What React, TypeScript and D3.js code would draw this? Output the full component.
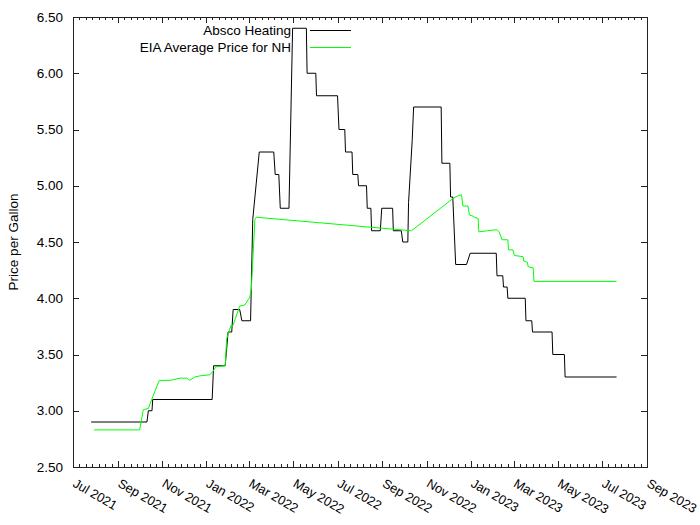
import React from "react";
import * as d3 from "d3";

// ---- data ----
const abscoDates = [
  "2021-07-26","2021-10-11","2021-10-13","2021-10-18","2021-10-19","2022-01-09","2022-01-11","2022-01-27",
  "2022-01-31","2022-02-05","2022-02-07","2022-02-16","2022-02-19","2022-03-03","2022-03-06","2022-03-15",
  "2022-04-04","2022-04-06","2022-04-11","2022-04-13","2022-04-25","2022-04-30","2022-05-19","2022-05-20",
  "2022-06-01","2022-06-02","2022-07-01","2022-07-03","2022-07-11","2022-07-12","2022-07-21","2022-07-22",
  "2022-07-29","2022-07-30","2022-08-10","2022-08-11","2022-08-16","2022-08-17","2022-08-29","2022-08-31",
  "2022-09-15","2022-09-16","2022-09-27","2022-09-29","2022-10-06","2022-10-07","2022-10-12","2022-10-14",
  "2022-11-21","2022-11-22","2022-12-03","2022-12-04","2022-12-07","2022-12-11","2022-12-26","2022-12-31",
  "2023-02-05","2023-02-06","2023-02-14","2023-02-15","2023-02-20","2023-02-21","2023-03-17","2023-03-18",
  "2023-03-26","2023-03-27","2023-04-23","2023-04-24","2023-05-10","2023-05-11","2023-07-21"
];
const abscoPrices = [
  2.90,2.90,3.00,3.00,3.10,3.10,3.40,3.40,
  3.70,3.70,3.90,3.90,3.80,3.80,4.70,5.30,
  5.30,5.10,5.10,4.80,4.80,6.40,6.40,6.00,
  6.00,5.80,5.80,5.50,5.50,5.30,5.30,5.10,
  5.10,5.00,5.00,4.80,4.80,4.60,4.60,4.80,
  4.80,4.60,4.60,4.50,4.50,4.85,5.40,5.70,
  5.70,5.20,5.20,4.90,4.90,4.30,4.30,4.40,
  4.40,4.20,4.20,4.10,4.10,4.00,4.00,3.80,
  3.80,3.70,3.70,3.50,3.50,3.30,3.30
];

const eiaDates = [
  "2021-07-30","2021-10-01","2021-10-06","2021-10-13","2021-10-20","2021-10-28","2021-11-12","2021-11-26",
  "2021-12-05","2021-12-09","2021-12-16","2021-12-23","2022-01-06","2022-01-10","2022-01-14","2022-01-27",
  "2022-01-29","2022-02-04","2022-02-07","2022-02-10","2022-02-16","2022-02-23","2022-03-02","2022-03-04",
  "2022-03-09","2022-03-11","2022-10-11","2022-12-08","2022-12-14","2022-12-19","2022-12-21","2022-12-28",
  "2022-12-30","2023-01-04","2023-01-06","2023-01-11","2023-01-12","2023-01-24","2023-02-06","2023-02-09",
  "2023-02-13","2023-02-21","2023-02-22","2023-02-28","2023-03-02","2023-03-14","2023-03-15","2023-03-20",
  "2023-03-21","2023-03-28","2023-03-29","2023-07-21"
];
const eiaPrices = [
  2.83,2.83,3.01,3.02,3.14,3.27,3.27,3.29,
  3.29,3.27,3.30,3.31,3.32,3.35,3.39,3.40,
  3.64,3.76,3.76,3.82,3.93,3.94,4.01,4.08,
  4.70,4.72,4.60,4.89,4.91,4.92,4.82,4.82,
  4.74,4.73,4.72,4.71,4.59,4.60,4.61,4.59,
  4.52,4.52,4.43,4.43,4.38,4.37,4.33,4.32,
  4.28,4.27,4.15,4.15
];

const yTickValues = [2.5, 3.0, 3.5, 4.0, 4.5, 5.0, 5.5, 6.0, 6.5];
const xDomain = ["2021-07-01", "2023-09-01"];
const seriesNames = ["Absco Heating", "EIA Average Price for NH"];
const yTitle = "Price per Gallon";

const W = 700, H = 525;
const L = 73, R = 647, T = 17, B = 467;
const FONT = "'Liberation Sans', Arial, Helvetica, sans-serif";
const FS = 13.5;

export default function App() {
  const parse = d3.utcParse("%Y-%m-%d");
  const x = d3.scaleUtc().domain(xDomain.map((s) => parse(s)!)).range([L, R]);
  const y = d3.scaleLinear().domain([2.5, 6.5]).range([B, T]);

  const absco = abscoDates.map((d, i) => ({ date: parse(d)!, v: abscoPrices[i] }));
  const eia = eiaDates.map((d, i) => ({ date: parse(d)!, v: eiaPrices[i] }));

  const line = d3
    .line<{ date: Date; v: number }>()
    .x((d) => x(d.date))
    .y((d) => y(d.v));

  const majors = x.ticks(d3.utcMonth.every(2)!);
  const minors: number[] = [];
  for (let i = 0; i < majors.length - 1; i++) {
    const a = x(majors[i]), b = x(majors[i + 1]);
    for (let k = 1; k < 7; k++) minors.push(a + ((b - a) * k) / 7);
  }
  const fmt = d3.utcFormat("%b %Y");
  const axisColor = "#222";

  return (
    <svg
      width={W}
      height={H}
      style={{ position: "absolute", left: 0, top: 0, background: "#fff" }}
      fontFamily={FONT}
      fontSize={FS}
    >
      <rect x={0} y={0} width={W} height={H} fill="#fff" />
      {/* y ticks and labels */}
      {yTickValues.map((v) => (
        <g key={"y" + v}>
          <line x1={L} x2={L + 6} y1={Math.round(y(v)) + 0.5} y2={Math.round(y(v)) + 0.5} stroke={axisColor} />
          <line x1={R - 6} x2={R} y1={Math.round(y(v)) + 0.5} y2={Math.round(y(v)) + 0.5} stroke={axisColor} />
          <text x={63} y={y(v)} textAnchor="end" dominantBaseline="central" fill="#000">
            {v.toFixed(2)}
          </text>
        </g>
      ))}
      {/* x ticks */}
      {majors.map((d) => {
        const px = Math.round(x(d)) + 0.5;
        return (
          <g key={"x" + d.toISOString()}>
            <line x1={px} x2={px} y1={B} y2={B - 6} stroke={axisColor} />
            <line x1={px} x2={px} y1={T} y2={T + 6} stroke={axisColor} />
            <text
              transform={`translate(${x(d) - 1},${B + 19}) rotate(30)`}
              textAnchor="start"
              fontSize={12.8}
              fill="#000"
            >
              {fmt(d)}
            </text>
          </g>
        );
      })}
      {minors.map((m, i) => {
        const px = Math.round(m) + 0.5;
        return (
          <g key={"m" + i}>
            <line x1={px} x2={px} y1={B} y2={B - 3} stroke={axisColor} />
            <line x1={px} x2={px} y1={T} y2={T + 3} stroke={axisColor} />
          </g>
        );
      })}
      {/* frame */}
      <rect x={L + 0.5} y={T + 0.5} width={R - L} height={B - T} fill="none" stroke={axisColor} />
      {/* y title */}
      <text
        transform={`translate(13,${(T + B) / 2}) rotate(-90)`}
        textAnchor="middle"
        dominantBaseline="central"
        fill="#000"
      >
        {yTitle}
      </text>
      {/* series */}
      <path d={line(absco) || ""} fill="none" stroke="#000" strokeWidth={1} />
      <path d={line(eia) || ""} fill="none" stroke="#00ff00" strokeWidth={1} />
      {/* legend */}
      <text x={291} y={30.5} textAnchor="end" dominantBaseline="central" fill="#000">
        {seriesNames[0]}
      </text>
      <line x1={310} x2={351} y1={30.5} y2={30.5} stroke="#000" />
      <text x={291} y={47.5} textAnchor="end" dominantBaseline="central" fill="#000">
        {seriesNames[1]}
      </text>
      <line x1={310} x2={351} y1={47.5} y2={47.5} stroke="#00ff00" />
    </svg>
  );
}
